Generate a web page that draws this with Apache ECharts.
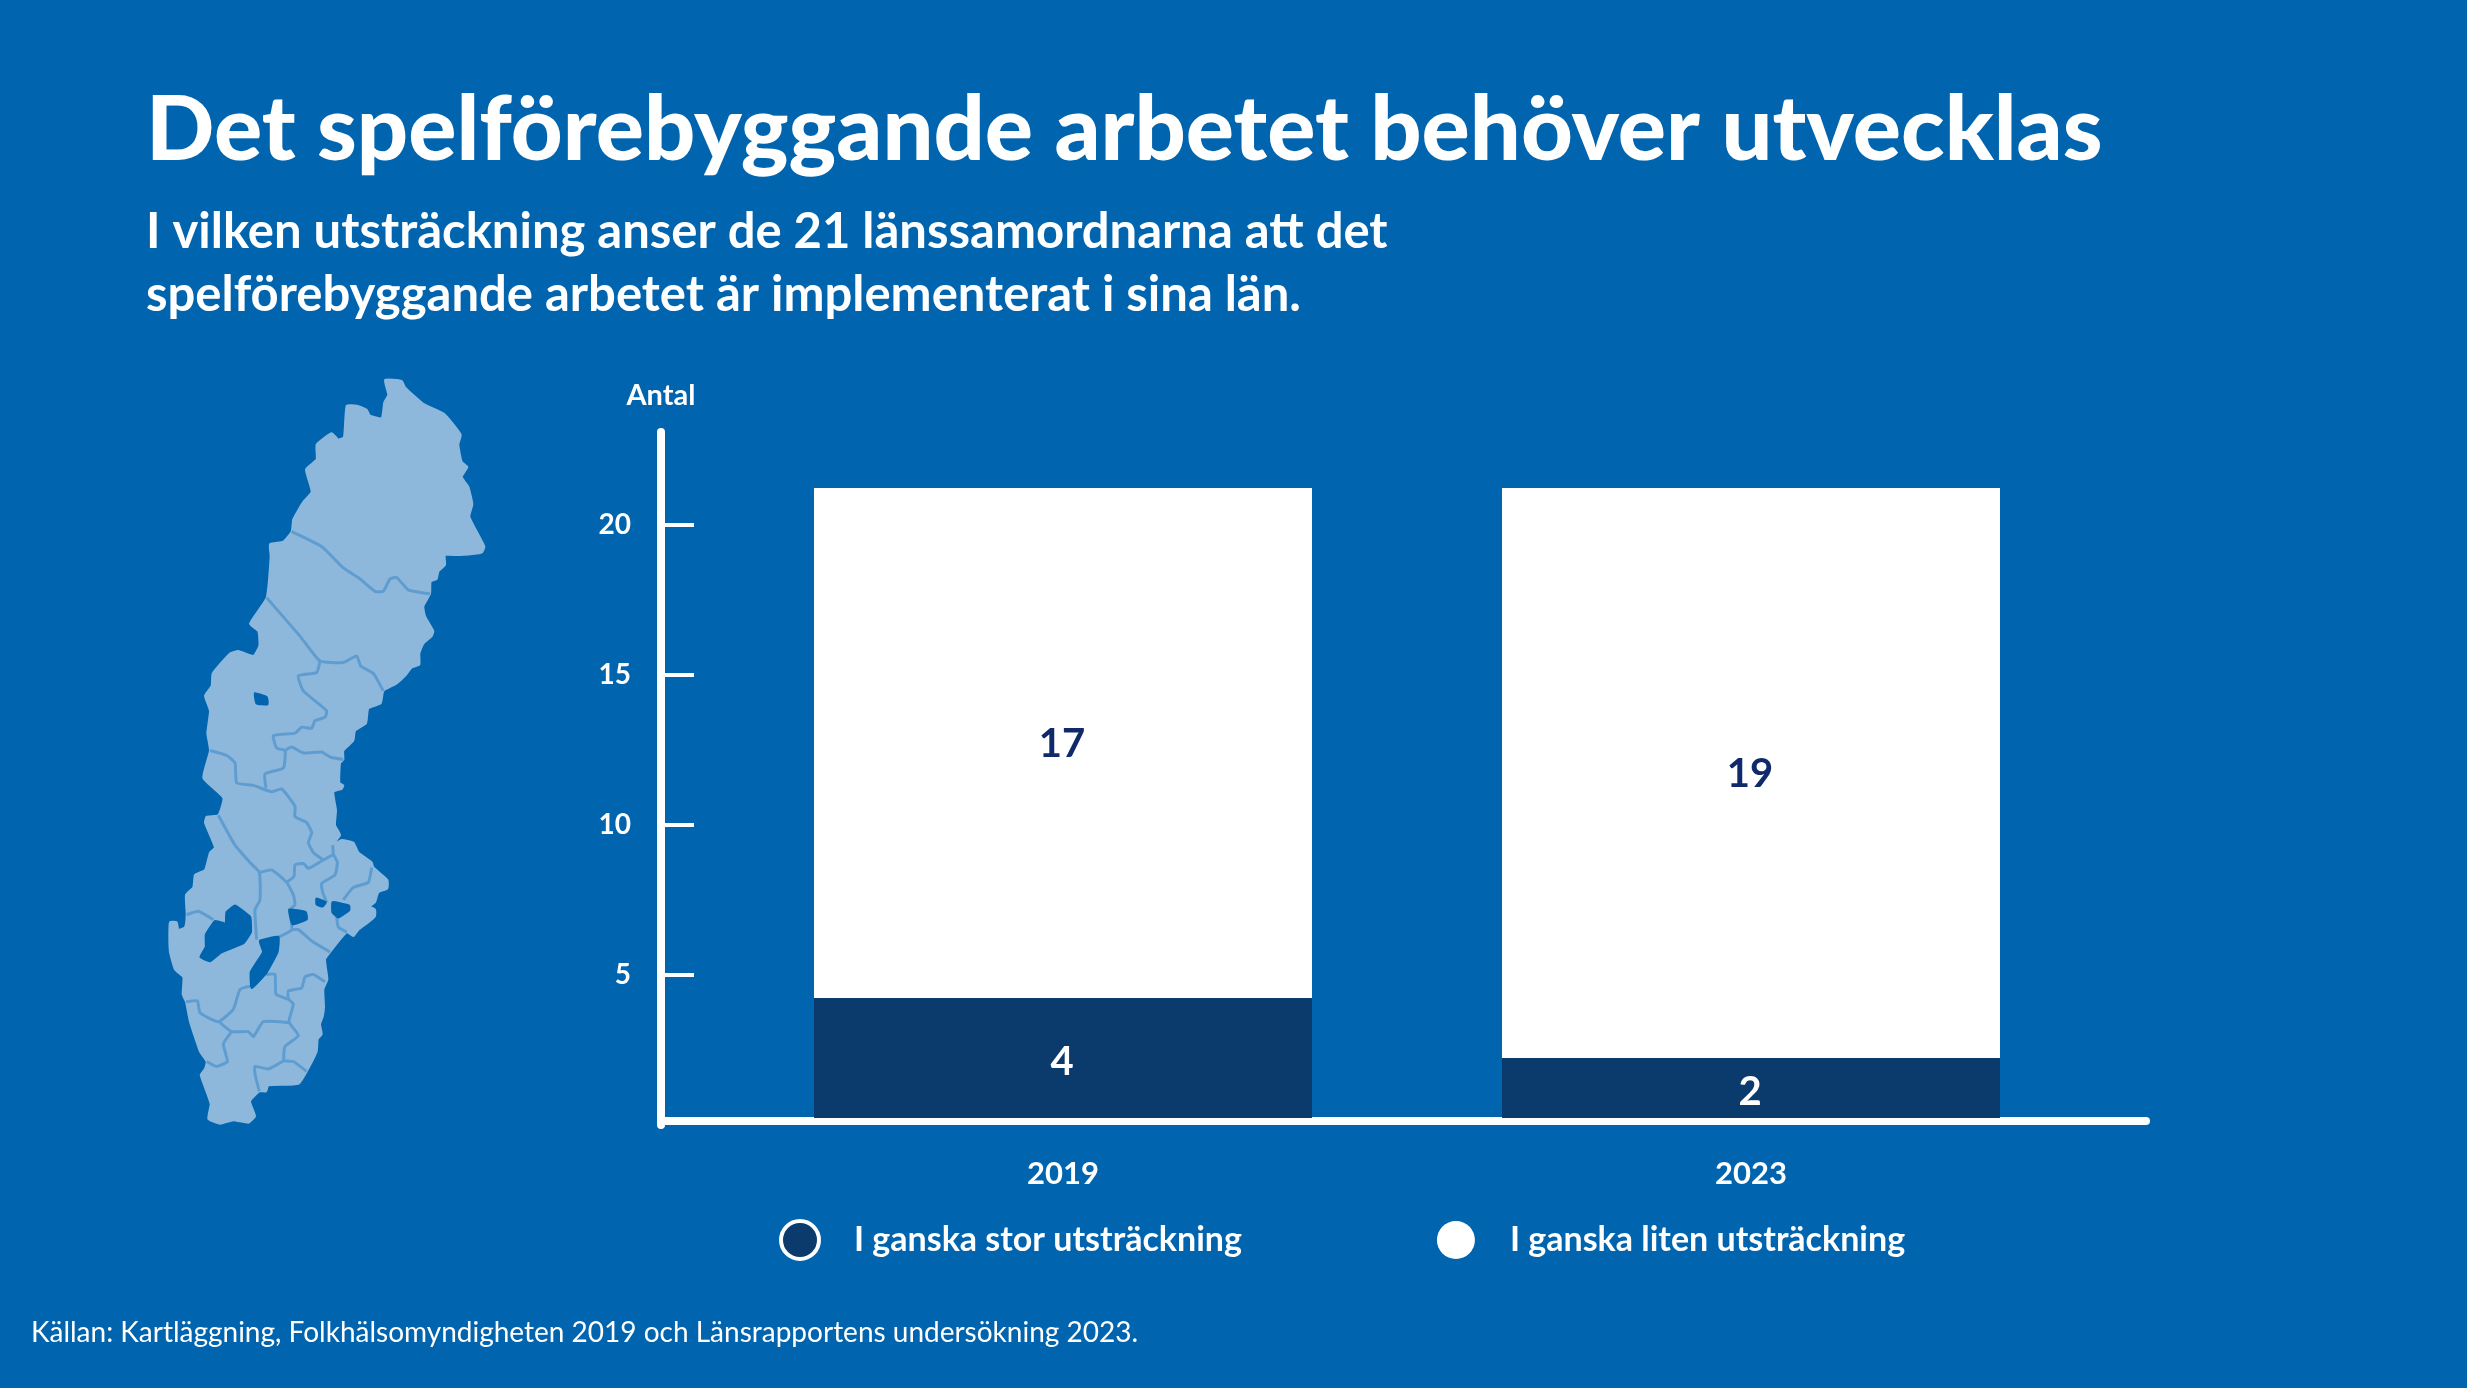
<!DOCTYPE html>
<html>
<head>
<meta charset="utf-8">
<title>Det spelförebyggande arbetet behöver utvecklas</title>
<script src="https://cdn.jsdelivr.net/npm/echarts@6/dist/echarts.min.js"></script>
<style>
    html, body { margin: 0; padding: 0; background: #0064ae; }
    #main { width: 2467px; height: 1388px; }
</style>
</head>
<body>
<div id="main"></div>
<script>
// data
var years = ['2019', '2023'];
var seriesNames = ['I ganska stor utsträckning', 'I ganska liten utsträckning'];
var storValues = [4, 2];
var litenValues = [17, 19];
var yTicks = [5, 10, 15, 20];

var titleText = 'Det spelförebyggande arbetet behöver utvecklas';
var subtitleText = 'I vilken utsträckning anser de 21 länssamordnarna att det\nspelförebyggande arbetet är implementerat i sina län.';
var sourceText = 'Källan: Kartläggning, Folkhälsomyndigheten 2019 och Länsrapportens undersökning 2023.';

var fontName = 'Lato';
var bgColor = '#0064ae';
var darkColor = '#0b3a6c';
var navyText = '#10296b';
var mapFill = '#8db8dc';
var mapLine = '#5f9dd1';

// kartan, handritad, koordinater fran inzoomad bild
var swedenOutline = [[735,40],[785,42],[795,55],[850,88],[912,108],[962,150],[955,170],[965,205],[982,215],[965,235],[985,255],[997,290],[988,315],[1033,375],[1025,387],[960,392],[915,392],[915,412],[895,425],[890,440],[872,445],[870,470],[850,495],[855,515],[880,545],[875,555],[850,570],[838,590],[838,612],[815,618],[795,635],[770,650],[730,665],[722,690],[685,700],[678,730],[645,745],[640,765],[610,785],[610,803],[600,810],[598,850],[610,855],[605,862],[580,868],[588,905],[585,935],[600,955],[578,975],[605,965],[640,970],[655,990],[695,1010],[700,1020],[742,1045],[742,1062],[715,1070],[705,1090],[690,1098],[705,1105],[705,1118],[685,1130],[655,1145],[640,1158],[620,1150],[570,1190],[555,1205],[562,1245],[550,1265],[552,1300],[548,1320],[540,1335],[545,1355],[533,1365],[530,1390],[500,1430],[475,1455],[385,1458],[378,1470],[358,1470],[330,1490],[345,1520],[325,1533],[280,1528],[240,1535],[205,1525],[212,1495],[182,1437],[195,1425],[200,1410],[180,1390],[150,1330],[138,1290],[128,1275],[130,1240],[105,1225],[90,1190],[88,1160],[90,1130],[110,1130],[115,1145],[135,1140],[140,1115],[138,1075],[160,1060],[165,1035],[195,1025],[210,990],[225,980],[195,930],[200,918],[235,915],[250,880],[190,840],[210,785],[202,750],[210,705],[195,675],[215,655],[218,630],[270,590],[295,585],[340,595],[358,575],[355,545],[330,530],[380,478],[392,395],[390,370],[430,365],[455,345],[460,320],[490,285],[515,265],[498,220],[530,200],[530,170],[575,147],[595,160],[612,155],[620,92],[650,92],[680,100],[690,112],[725,117],[733,85],[745,70]];
var regionBorders = [
    [[455,345],[545,375],[610,418],[660,440],[705,465],[730,465],[750,440],[770,437],[805,462],[870,470]],
    [[380,478],[480,555],[540,605],[610,608],[650,595],[662,615],[700,630],[730,665]],
    [[540,605],[530,628],[475,635],[490,665],[560,705],[555,718],[525,725],[515,740],[485,738],[465,750],[400,755],[410,780],[435,785],[430,820],[375,832],[378,860]],
    [[435,785],[455,778],[490,790],[545,788],[570,798],[610,803]],
    [[210,785],[260,795],[285,810],[290,850],[340,855],[395,868],[425,862],[465,897],[465,918],[500,930],[515,950],[505,970],[520,990],[550,1005]],
    [[235,915],[285,975],[330,1010],[358,1030],[360,1085],[345,1105],[350,1165]],
    [[360,1030],[395,1025],[440,1050],[460,1075],[465,1095],[450,1105],[455,1145],[415,1160],[360,1168]],
    [[440,1050],[462,1038],[465,1015],[490,1012],[505,1022],[550,1005],[580,995],[592,1010],[585,1035],[545,1052],[548,1070],[560,1090]],
    [[580,995],[578,975]],
    [[610,1085],[640,1060],[685,1050],[695,1020]],
    [[590,1120],[595,1140],[620,1150]],
    [[455,1145],[475,1145],[520,1170],[570,1190]],
    [[140,1115],[175,1108],[220,1125]],
    [[335,1258],[300,1265],[280,1305],[235,1330],[180,1312],[172,1288],[138,1290]],
    [[378,1235],[405,1235],[408,1275],[445,1285],[460,1295],[447,1330],[475,1358],[435,1380],[432,1408],[460,1410],[500,1430]],
    [[445,1285],[445,1268],[485,1262],[495,1240],[520,1235],[555,1250]],
    [[240,1332],[275,1350],[325,1350],[340,1360],[370,1330],[447,1332]],
    [[275,1350],[250,1375],[262,1410],[230,1420],[200,1410]],
    [[432,1408],[385,1425],[345,1420],[345,1435],[358,1470]]
];
var lakes = [
    [[260,1110],[285,1097],[330,1120],[332,1150],[310,1172],[255,1187],[240,1192],[210,1208],[182,1200],[198,1180],[198,1155],[225,1128],[250,1132],[258,1135]],
    [[360,1168],[415,1160],[412,1190],[378,1232],[335,1262],[333,1230],[370,1190]],
    [[345,670],[380,678],[382,692],[350,690]],
    [[448,1105],[497,1110],[500,1124],[458,1134]],
    [[530,1083],[557,1090],[547,1098],[530,1094]],
    [[578,1090],[627,1097],[627,1106],[595,1120],[578,1110]]
];

var toPage = function(points) {
    return points.map(function(p) {
        return [140 + p[0] / 3, 360 + p[1] / 2.01];
    });
};

var mapElements = [{
    type: 'polygon',
    shape: { points: toPage(swedenOutline), smooth: 0.15 },
    style: { fill: mapFill, stroke: mapFill, lineWidth: 2, lineJoin: 'round' }
}];
regionBorders.forEach(function(line) {
    mapElements.push({
        type: 'polyline',
        shape: { points: toPage(line), smooth: 0.15 },
        style: { fill: null, stroke: mapLine, lineWidth: 3, lineJoin: 'round' }
    });
});
lakes.forEach(function(lake) {
    mapElements.push({
        type: 'polygon',
        shape: { points: toPage(lake), smooth: 0.1 },
        style: { fill: bgColor, stroke: bgColor, lineWidth: 2.5, lineJoin: 'round' }
    });
});

var chart = echarts.init(document.getElementById('main'));

chart.setOption({
    backgroundColor: bgColor,
    animation: false,
    textStyle: { fontFamily: fontName },
    title: [{
        text: titleText,
        left: 141,
        top: 81,
        textStyle: { color: '#fff', fontSize: 90, fontWeight: 900, fontFamily: fontName }
    }, {
        text: subtitleText,
        left: 141,
        top: 196,
        textStyle: { color: '#fff', fontSize: 49, fontWeight: 700, lineHeight: 63, fontFamily: fontName }
    }, {
        text: sourceText,
        left: 26,
        top: 1314,
        textStyle: { color: '#fff', fontSize: 28, fontWeight: 400, fontFamily: fontName }
    }],
    legend: {
        left: 774,
        top: 1214,
        itemWidth: 38,
        itemHeight: 38,
        itemGap: 195,
        icon: 'circle',
        selectedMode: false,
        data: [{
            name: seriesNames[0],
            itemStyle: { color: darkColor, borderColor: '#fff', borderWidth: 4 }
        }, {
            name: seriesNames[1],
            itemStyle: { color: '#fff' }
        }],
        textStyle: { color: '#fff', fontSize: 34, fontWeight: 700, fontFamily: fontName, padding: [0, 0, 0, 30] }
    },
    // grid 0: staplarna, grid 1: axlarna som ligger lite forskjutna i originalet
    grid: [
        { left: 719, width: 1376, top: 428, height: 690 },
        { left: 661, width: 1485, top: 432, height: 693 }
    ],
    xAxis: [{
        gridIndex: 0,
        type: 'category',
        data: years,
        axisLine: { show: false },
        axisTick: { show: false },
        axisLabel: { color: '#fff', fontSize: 31, fontWeight: 700, margin: 40, fontFamily: fontName }
    }, {
        gridIndex: 1,
        type: 'value',
        min: 0,
        max: 1,
        offset: -4,
        axisLine: { show: true, onZero: false, lineStyle: { color: '#fff', width: 8, cap: 'round' } },
        axisTick: { show: false },
        axisLabel: { show: false },
        splitLine: { show: false }
    }],
    yAxis: [{
        gridIndex: 0,
        type: 'value',
        min: 0,
        max: 23,
        show: false
    }, {
        gridIndex: 1,
        type: 'value',
        min: 0,
        max: 23.1,
        name: 'Antal',
        nameLocation: 'end',
        nameGap: 22,
        nameTextStyle: { color: '#fff', fontSize: 29, fontWeight: 700, align: 'center', fontFamily: fontName },
        axisLine: { show: true, onZero: false, lineStyle: { color: '#fff', width: 8 } },
        axisTick: { show: true, inside: true, length: 33, customValues: yTicks, lineStyle: { color: '#fff', width: 4 } },
        axisLabel: { color: '#fff', fontSize: 28, fontWeight: 700, margin: 30, customValues: yTicks, fontFamily: fontName },
        splitLine: { show: false }
    }],
    series: [{
        name: seriesNames[0],
        type: 'bar',
        stack: 'antal',
        barWidth: 498,
        xAxisIndex: 0,
        yAxisIndex: 0,
        data: storValues,
        itemStyle: { color: darkColor },
        label: { show: true, position: 'inside', offset: [-1, 4], color: '#fff', fontSize: 40, fontWeight: 700, fontFamily: fontName }
    }, {
        name: seriesNames[1],
        type: 'bar',
        stack: 'antal',
        barWidth: 498,
        xAxisIndex: 0,
        yAxisIndex: 0,
        data: litenValues,
        itemStyle: { color: '#fff' },
        label: { show: true, position: 'inside', offset: [-1, 1], color: navyText, fontSize: 40, fontWeight: 700, fontFamily: fontName }
    }],
    graphic: mapElements
});
</script>
</body>
</html>
